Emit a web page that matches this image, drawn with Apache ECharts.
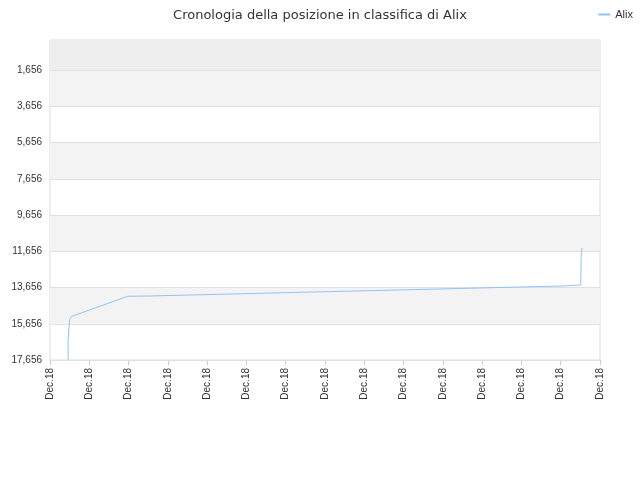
<!DOCTYPE html>
<html><head><meta charset="utf-8">
<script src="https://cdn.jsdelivr.net/npm/echarts@6/dist/echarts.min.js"></script>
</head><body style="margin:0">
<div id="c" style="width:640px;height:480px"></div>
<script>
const xLabels = Array(15).fill('Dec.18');
const xs = [0.46,0.46,0.48,0.5,0.55,1.98,2.0,2.54,2.55,3.56,3.57,4.63,4.64,5.65,5.66,6.72,6.73,7.76,7.77,8.83,8.84,9.88,9.89,10.94,10.95,11.96,11.97,13.03,13.04,13.51,13.52,13.54];
const ys = [17656,16550,16500,15400,15250,14140,14125,14125,14070,14070,14014,14014,13959,13959,13904,13904,13849,13849,13794,13794,13739,13739,13683,13683,13628,13628,13573,13573,13518,13518,12000,11476];
const yTicks = [1656,3656,5656,7656,9656,11656,13656,15656,17656];
const data = xs.map((x,i)=>[x,ys[i]]);
const bands = [[0,1656,'#eeeeee'],[1656,3656,'#f3f3f3'],[5656,7656,'#f3f3f3'],[9656,11656,'#f3f3f3'],[13656,15656,'#f3f3f3']];
const chart = echarts.init(document.getElementById('c'));
chart.setOption({
  animation:false,
  title:{text:'Cronologia della posizione in classifica di Alix',left:'center',top:4,textStyle:{fontSize:13,fontWeight:'normal',color:'#333',fontFamily:'DejaVu Sans'}},
  legend:{right:2,top:4,itemWidth:12,itemHeight:2,icon:'rect',textStyle:{fontSize:11,color:'#333'},data:['Alix']},
  grid:{left:50,right:40,top:40,bottom:120,show:true,borderColor:'#ddd',borderWidth:1},
  xAxis:{type:'value',position:'bottom',min:0,max:14,interval:1,
    axisLabel:{formatter:v=>xLabels[v],rotate:90,fontSize:10,color:'#333'},
    axisLine:{onZero:false,lineStyle:{color:'#ccc'}},axisTick:{lineStyle:{color:'#ccc'}},
    splitLine:{show:false}},
  yAxis:{type:'value',inverse:true,min:0,max:17656,
    axisLabel:{customValues:yTicks,fontSize:10,color:'#333'},
    axisTick:{show:false},axisLine:{show:false},splitLine:{show:false}},
  series:[{name:'Alix',type:'line',data:data,showSymbol:false,z:5,
    lineStyle:{color:'#90c4f5',width:1},itemStyle:{color:'#90c4f5'},
    markArea:{silent:true,data:bands.map(b=>[{yAxis:b[0],itemStyle:{color:b[2]}},{yAxis:b[1]}])},
    markLine:{silent:true,symbol:'none',label:{show:false},lineStyle:{color:'#e0e0e0',type:'solid',width:1},
      data:yTicks.map(v=>({yAxis:v}))}}]
});
</script></body></html>
